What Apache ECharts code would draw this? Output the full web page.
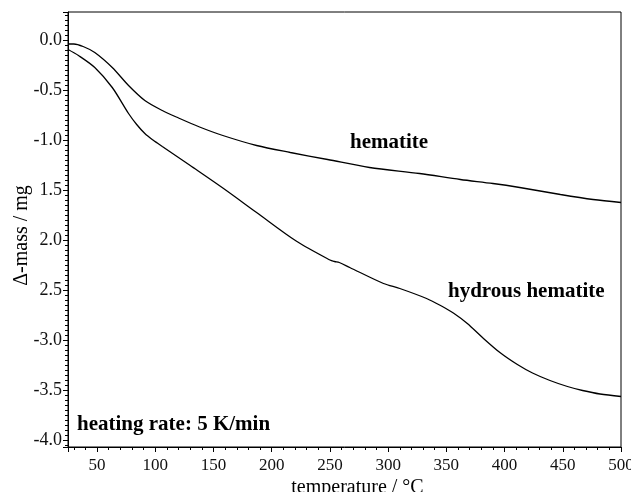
<!DOCTYPE html>
<html>
<head>
<meta charset="utf-8">
<script src="https://cdn.jsdelivr.net/npm/echarts@6/dist/echarts.min.js"></script>
<style>
  html, body { margin: 0; padding: 0; background: #fff; overflow: hidden; }
  #chart { width: 631px; height: 492px; }
</style>
</head>
<body>
<div id="chart"></div>
<script>
// hematite curve (temperature °C, mass change mg)
const hemTemp = [25, 30, 38, 48, 63, 77, 91, 106, 120, 138, 158, 187, 216, 248, 284, 327, 362, 390, 413, 448, 476, 500];
const hemMass = [-0.04, -0.04, -0.065, -0.125, -0.275, -0.455, -0.605, -0.705, -0.78, -0.87, -0.955, -1.055, -1.125, -1.195, -1.275, -1.335, -1.395, -1.435, -1.475, -1.545, -1.595, -1.625];
// hydrous hematite curve
const hydTemp = [25, 34, 48, 63, 77, 84, 91, 98, 106, 118, 130, 158, 187, 221, 250, 254, 258, 267, 296, 310, 333, 345, 356, 368, 381, 396, 411, 424, 439, 454, 467, 482, 500];
const hydMass = [-0.095, -0.155, -0.275, -0.475, -0.735, -0.845, -0.935, -1.0, -1.065, -1.16, -1.255, -1.48, -1.725, -2.01, -2.2, -2.215, -2.225, -2.275, -2.435, -2.485, -2.585, -2.655, -2.73, -2.835, -2.975, -3.125, -3.245, -3.33, -3.405, -3.465, -3.505, -3.54, -3.565];

const yTickValues = [0, -0.5, -1, -1.5, -2, -2.5, -3, -3.5, -4];
const yTickLabels = ['0.0', '-0.5', '-1.0', '1.5', '2.0', '2.5', '-3.0', '-3.5', '-4.0'];
const xTickValues = [50, 100, 150, 200, 250, 300, 350, 400, 450, 500];

function pairs(xs, ys) {
  return xs.map(function (x, i) { return [x, ys[i]]; });
}

const serif = '"Liberation Serif", "DejaVu Serif", serif';
const chart = echarts.init(document.getElementById('chart'), null, { renderer: 'canvas' });

chart.setOption({
  animation: false,
  backgroundColor: '#fff',
  grid: {
    left: 68, right: 10, top: 12, bottom: 45,
    outerBoundsMode: 'none',
    containLabel: false,
    show: true, borderColor: '#000', borderWidth: 1,
    backgroundColor: 'transparent'
  },
  xAxis: {
    type: 'value',
    min: 25, max: 500,
    splitNumber: 9,
    name: 'temperature / °C',
    nameLocation: 'middle',
    nameGap: 31,
    nameMoveOverlap: false,
    nameTextStyle: { fontFamily: serif, fontSize: 20, color: '#000', padding: [0, 0, 0, 26] },
    axisLine: { show: true, onZero: false, lineStyle: { color: '#000', width: 1 } },
    axisTick: { show: true, inside: false, length: 5, lineStyle: { color: '#000' } },
    minorTick: { show: true, splitNumber: 5, length: 3, lineStyle: { color: '#000' } },
    splitLine: { show: false },
    axisLabel: {
      margin: 10,
      fontFamily: serif, fontSize: 17, color: '#111',
      formatter: function (v) {
        const r = Math.round(v);
        return xTickValues.indexOf(r) >= 0 && Math.abs(v - r) < 1e-6 ? String(r) : '';
      }
    }
  },
  yAxis: {
    type: 'value',
    min: -4.07, max: 0.28,
    splitNumber: 9,
    name: 'Δ-mass / mg',
    nameLocation: 'middle',
    nameGap: 36,
    nameMoveOverlap: false,
    nameTextStyle: { fontFamily: serif, fontSize: 20, color: '#000', padding: [0, 12, 0, 0] },
    axisLine: { show: true, onZero: false, lineStyle: { color: '#000', width: 1 } },
    axisTick: { show: true, inside: false, length: 5, lineStyle: { color: '#000' } },
    minorTick: { show: true, splitNumber: 10, length: 3, lineStyle: { color: '#000' } },
    splitLine: { show: false },
    axisLabel: {
      margin: 6,
      fontFamily: serif, fontSize: 18, color: '#111',
      formatter: function (v) {
        for (let i = 0; i < yTickValues.length; i++) {
          if (Math.abs(v - yTickValues[i]) < 1e-6) return yTickLabels[i];
        }
        return '';
      }
    }
  },
  series: [
    {
      name: 'hematite',
      type: 'line',
      data: pairs(hemTemp, hemMass),
      smooth: 0.3,
      showSymbol: false,
      lineStyle: { color: '#000', width: 1.3 }
    },
    {
      name: 'hydrous hematite',
      type: 'line',
      data: pairs(hydTemp, hydMass),
      smooth: 0.3,
      showSymbol: false,
      lineStyle: { color: '#000', width: 1.3 }
    }
  ],
  graphic: [
    { type: 'text', left: 350, top: 132, style: { text: 'hematite', font: 'bold 21px ' + serif, fill: '#000' } },
    { type: 'text', left: 448, top: 281, style: { text: 'hydrous hematite', font: 'bold 21px ' + serif, fill: '#000' } },
    { type: 'text', left: 77, top: 414, style: { text: 'heating rate: 5 K/min', font: 'bold 21px ' + serif, fill: '#000' } }
  ]
});
</script>
</body>
</html>
